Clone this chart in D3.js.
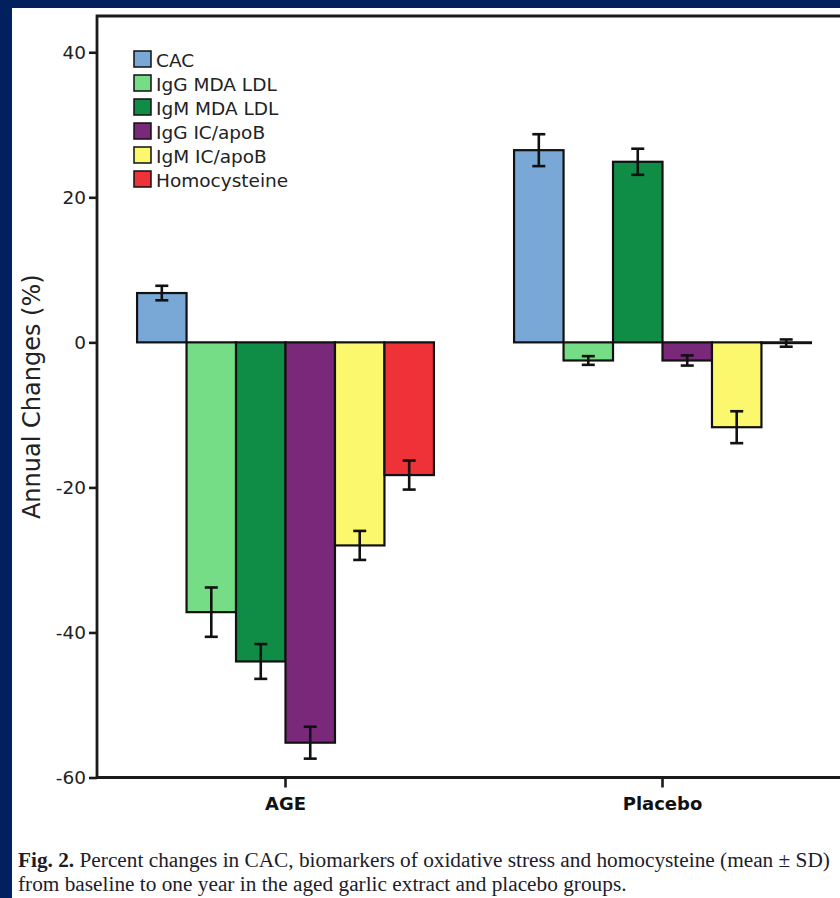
<!DOCTYPE html>
<html>
<head>
<meta charset="utf-8">
<script src="https://cdn.jsdelivr.net/npm/d3@7"></script>
<style>
	html, body { margin: 0; padding: 0; background: #021f5e; }
	svg { display: block; }
</style>
</head>
<body>
<div id="chart"></div>
<script>

var groups = ["AGE", "Placebo"];
var series = ["CAC", "IgG MDA LDL", "IgM MDA LDL", "IgG IC/apoB", "IgM IC/apoB", "Homocysteine"];
var colors = ["#79a8d6", "#74dd86", "#0f8d46", "#7a287a", "#fbf86e", "#ee3238"];

// mean % change per group, in series order
var ageValues = [6.8, -37.2, -44.0, -55.2, -28.0, -18.3];
var placeboValues = [26.5, -2.5, 24.9, -2.5, -11.7, -0.1];

// SD shown as whiskers
var ageErr = [1.0, 3.4, 2.4, 2.2, 2.0, 2.0];
var placeboErr = [2.2, 0.6, 1.8, 0.7, 2.2, 0.5];

var yTicks = [40, 20, 0, -20, -40, -60];

var caption1 = "Percent changes in CAC, biomarkers of oxidative stress and homocysteine (mean \u00b1 SD)";
var caption2 = "from baseline to one year in the aged garlic extract and placebo groups.";


var CHART = (function(CHART)
{
	CHART.width = 840;
	CHART.height = 898;

	CHART.build = function()
	{
		var svg = d3.select("#chart").append("svg")
		.attr("width", CHART.width)
		.attr("height", CHART.height);

		// white page over the navy frame
		svg.append("rect")
		.attr("x", 12)
		.attr("y", 8)
		.attr("width", CHART.width - 12)
		.attr("height", CHART.height - 8)
		.attr("fill", "#ffffff");

		var plot = { left: 97, top: 16, right: 851, bottom: 777.5 };

		var y = d3.scaleLinear()
		.domain([-60, 45])
		.range([plot.bottom, plot.top]);

		var x0 = d3.scaleBand()
		.domain(groups)
		.range([plot.left, plot.right])
		.padding(0);

		var x1 = d3.scaleBand()
		.domain(series)
		.range([0, x0.bandwidth()])
		.paddingInner(0)
		.paddingOuter(0.81);

		var rows = [];
		groups.forEach(function(g, gi)
		{
			var vals = gi === 0 ? ageValues : placeboValues;
			var errs = gi === 0 ? ageErr : placeboErr;
			series.forEach(function(s, si)
			{
				rows.push({ group: g, name: s, value: vals[si], err: errs[si], color: colors[si] });
			});
		});

		// bars
		svg.append("g")
		.attr("class", "bars")
		.selectAll("rect")
		.data(rows)
		.join("rect")
		.attr("x", function(d) { return x0(d.group) + x1(d.name); })
		.attr("width", x1.bandwidth())
		.attr("y", function(d) { return y(Math.max(0, d.value)); })
		.attr("height", function(d) { return Math.abs(y(d.value) - y(0)); })
		.attr("fill", function(d) { return d.color; })
		.attr("stroke", "#111")
		.attr("stroke-width", 2.2);

		// error bars
		var errG = svg.append("g")
		.attr("class", "errbars")
		.attr("stroke", "#111")
		.attr("stroke-width", 2.6);

		var eb = errG.selectAll("g")
		.data(rows)
		.join("g")
		.attr("transform", function(d) { return "translate(" + (x0(d.group) + x1(d.name) + x1.bandwidth() / 2) + ",0)"; });

		eb.append("line")
		.attr("x1", 0).attr("x2", 0)
		.attr("y1", function(d) { return y(d.value + d.err); })
		.attr("y2", function(d) { return y(d.value - d.err); });

		eb.append("line")
		.attr("x1", -6.5).attr("x2", 6.5)
		.attr("y1", function(d) { return y(d.value + d.err); })
		.attr("y2", function(d) { return y(d.value + d.err); });

		eb.append("line")
		.attr("x1", -6.5).attr("x2", 6.5)
		.attr("y1", function(d) { return y(d.value - d.err); })
		.attr("y2", function(d) { return y(d.value - d.err); });

		// frame: top edge, left axis, bottom axis
		svg.append("path")
		.attr("d", "M" + plot.right + "," + plot.top + "H" + plot.left + "V" + plot.bottom + "H" + plot.right)
		.attr("fill", "none")
		.attr("stroke", "#1a1a1a")
		.attr("stroke-width", 2.8);

		var yAxis = svg.append("g")
		.attr("class", "yAxis")
		.attr("transform", "translate(" + plot.left + ",0)")
		.call(d3.axisLeft(y).tickValues(yTicks).tickSize(8).tickPadding(3).tickFormat(function(d) { return String(d); }));

		yAxis.select(".domain").remove();
		yAxis.selectAll(".tick line").attr("stroke", "#1a1a1a").attr("stroke-width", 2.6);
		yAxis.selectAll(".tick text")
		.attr("fill", "#222")
		.style("font-family", "'DejaVu Sans', sans-serif")
		.style("font-size", "18.5px");

		var xAxis = svg.append("g")
		.attr("class", "xAxis")
		.attr("transform", "translate(0," + plot.bottom + ")")
		.call(d3.axisBottom(x0).tickSize(10).tickPadding(10));

		xAxis.select(".domain").remove();
		xAxis.selectAll(".tick line").attr("stroke", "#1a1a1a").attr("stroke-width", 2.6);
		xAxis.selectAll(".tick text")
		.attr("fill", "#111")
		.style("font-family", "'DejaVu Sans', sans-serif")
		.style("font-weight", "bold")
		.style("font-size", "18px");

		svg.append("text")
		.attr("transform", "translate(40," + ((plot.top + plot.bottom) / 2) + ") rotate(-90)")
		.attr("text-anchor", "middle")
		.attr("fill", "#222")
		.style("font-family", "'DejaVu Sans', sans-serif")
		.style("font-size", "24px")
		.text("Annual Changes (%)");

		// legend
		var legend = svg.append("g")
		.attr("class", "legend")
		.attr("transform", "translate(134,51)");

		var item = legend.selectAll("g")
		.data(series)
		.join("g")
		.attr("transform", function(d, i) { return "translate(0," + (i * 24) + ")"; });

		item.append("rect")
		.attr("width", 17)
		.attr("height", 16)
		.attr("fill", function(d, i) { return colors[i]; })
		.attr("stroke", "#111")
		.attr("stroke-width", 1.5);

		item.append("text")
		.attr("x", 22)
		.attr("y", 16)
		.attr("fill", "#222")
		.style("font-family", "'DejaVu Sans', sans-serif")
		.style("font-size", "18.5px")
		.text(function(d) { return d; });

		// caption
		var cap = svg.append("g")
		.attr("class", "caption")
		.style("font-family", "'Liberation Serif', serif")
		.style("font-size", "21.3px")
		.attr("fill", "#1c1c2a");

		var line1 = cap.append("text")
		.attr("x", 18)
		.attr("y", 867);

		line1.append("tspan")
		.attr("font-weight", "bold")
		.text("Fig. 2.");

		line1.append("tspan")
		.text(" " + caption1);

		cap.append("text")
		.attr("x", 18)
		.attr("y", 891)
		.text(caption2);
	}

	return CHART;

}(CHART || {}));

CHART.build();

</script>
</body>
</html>
